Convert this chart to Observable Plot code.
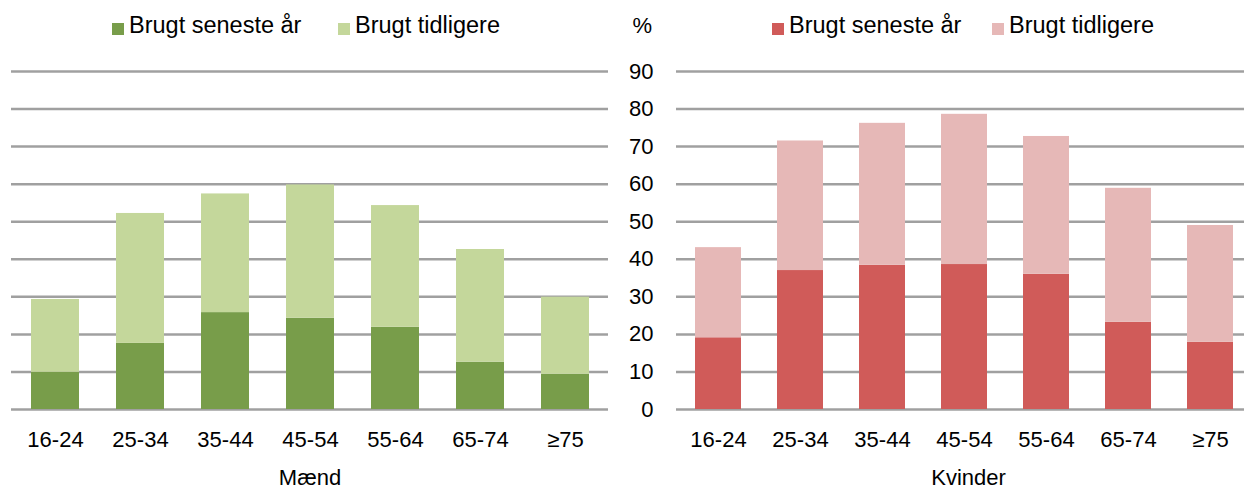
<!DOCTYPE html>
<html>
<head>
<meta charset="utf-8">
<script src="https://cdn.jsdelivr.net/npm/d3@7"></script>
<script src="https://cdn.jsdelivr.net/npm/@observablehq/plot@0.6"></script>
<style>
  body { margin: 0; background: #fff; font-family: "Liberation Sans", Arial, sans-serif; }
  #wrap { position: relative; width: 1244px; height: 490px; overflow: hidden; background: #fff; }
  .holder { position: absolute; top: 0; }
  .holder svg { max-width: none; display: block; }
  .item { position: absolute; top: 14px; font-size: 23.5px; line-height: 23.5px; color: #000; white-space: nowrap; }
  .sw { position: absolute; top: 23px; width: 12px; height: 12px; }
  .pct { position: absolute; top: 15px; font-size: 22px; line-height: 22px; right: 592px; }
</style>
</head>
<body>
<div id="wrap"></div>
<script>
// ---- data ----
const ageGroups = ["16-24", "25-34", "35-44", "45-54", "55-64", "65-74", "≥75"];
const seriesNames = ["Brugt seneste år", "Brugt tidligere"];
const maendSeneste    = [9.9, 17.6, 25.8, 24.3, 21.9, 12.6, 9.4];
const maendTidligere  = [19.4, 34.6, 31.6, 35.5, 32.4, 30.0, 20.5];
const kvinderSeneste   = [19.1, 37.0, 38.4, 38.6, 36.0, 23.2, 17.9];
const kvinderTidligere = [24.0, 34.5, 37.8, 40.0, 36.7, 35.7, 31.1];
const yTicks = [0, 10, 20, 30, 40, 50, 60, 70, 80, 90];
const panelTitles = ["Mænd", "Kvinder"];
const unitLabel = "%";
const greens = ["#789D4A", "#C4D79B"];
const reds = ["#D05B59", "#E6B8B7"];

function toRows(seneste, tidligere) {
  const rows = [];
  ageGroups.forEach((g, i) => {
    rows.push({age: g, serie: seriesNames[0], value: seneste[i]});
    rows.push({age: g, serie: seriesNames[1], value: tidligere[i]});
  });
  return rows;
}

function panel({rows, colors, title, width, marginLeft, marginRight, showY, titleDx}) {
  const marks = [
    Plot.ruleY(yTicks, {stroke: "#A0A0A0", strokeWidth: 2.5}),
    Plot.barY(rows, {x: "age", y: "value", fill: "serie"}),
    Plot.axisX({tickSize: 0, tickPadding: 22, label: null}),
    Plot.text([title], {text: d => d, frameAnchor: "bottom", lineAnchor: "bottom", dy: 75, dx: titleDx})
  ];
  if (showY) marks.push(Plot.axisY({ticks: yTicks, tickSize: 0, tickPadding: 23, label: null}));
  return Plot.plot({
    width, height: 490,
    marginLeft, marginRight, marginTop: 71, marginBottom: 81,
    style: {fontSize: "22px", fontFamily: "'Liberation Sans', Arial, sans-serif", color: "#000", background: "transparent"},
    x: {domain: ageGroups, paddingInner: 0.44, paddingOuter: 0.22},
    y: {domain: [0, 90], axis: showY ? undefined : null},
    color: {domain: seriesNames, range: colors},
    marks
  });
}

const wrap = document.getElementById("wrap");

const left = document.createElement("div");
left.className = "holder"; left.style.left = "0px";
left.appendChild(panel({rows: toRows(maendSeneste, maendTidligere), colors: greens, title: panelTitles[0],
  width: 623, marginLeft: 11, marginRight: 15, showY: false, titleDx: 0}));
wrap.appendChild(left);

const right = document.createElement("div");
right.className = "holder"; right.style.left = "612px";
right.appendChild(panel({rows: toRows(kvinderSeneste, kvinderTidligere), colors: reds, title: panelTitles[1],
  width: 640, marginLeft: 64, marginRight: 0, showY: true, titleDx: 4}));
wrap.appendChild(right);

// legends
function legend(colors, swatchX, textX) {
  seriesNames.forEach((s, i) => {
    const sw = document.createElement("div");
    sw.className = "sw"; sw.style.left = swatchX[i] + "px"; sw.style.background = colors[i];
    wrap.appendChild(sw);
    const t = document.createElement("div");
    t.className = "item"; t.style.left = textX[i] + "px"; t.textContent = s;
    wrap.appendChild(t);
  });
}
legend(greens, [112, 338], [129, 355]);
legend(reds, [772, 992], [789, 1009]);

const pct = document.createElement("div");
pct.className = "pct"; pct.textContent = unitLabel;
wrap.appendChild(pct);
</script>
</body>
</html>
